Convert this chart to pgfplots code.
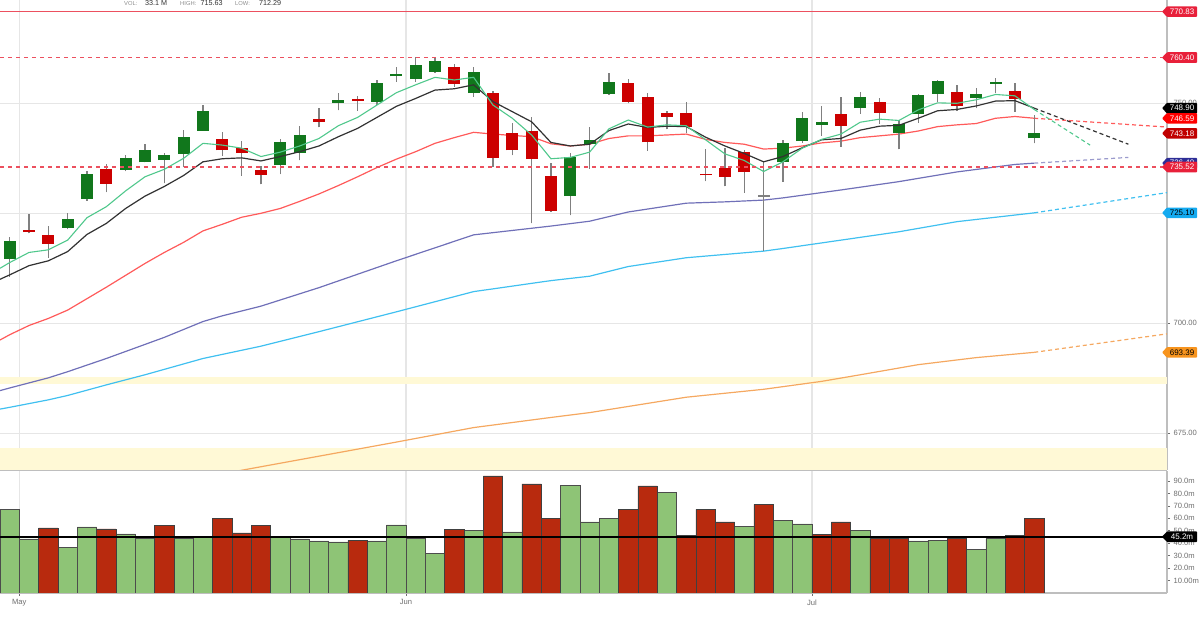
\documentclass[border=0pt]{standalone}
\usepackage{pgfplots}
\pgfplotsset{compat=1.18}
\usepackage{pgfplotstable}
\usepackage{fontspec}
\setmainfont{Liberation Sans}

\definecolor{cgreen}{RGB}{17,119,28}
\definecolor{cred}{RGB}{204,0,0}
\definecolor{wick}{RGB}{128,128,128}
\definecolor{vgreen}{RGB}{142,196,118}
\definecolor{vred}{RGB}{184,42,14}
\definecolor{magreen}{RGB}{80,200,140}
\definecolor{mablack}{RGB}{50,50,50}
\definecolor{mared}{RGB}{255,90,90}
\definecolor{mapurple}{RGB}{112,112,184}
\definecolor{macyan}{RGB}{64,192,240}
\definecolor{maorange}{RGB}{245,168,96}
\definecolor{hlevel}{RGB}{236,80,95}
\definecolor{band}{RGB}{255,249,214}
\definecolor{gridc}{RGB}{230,230,230}
\definecolor{axisc}{RGB}{190,190,190}
\definecolor{tickc}{RGB}{110,110,110}
\definecolor{tagcrimson}{RGB}{232,32,58}
\definecolor{tagred}{RGB}{255,0,0}
\definecolor{tagdark}{RGB}{192,0,0}
\definecolor{tagpurple}{RGB}{45,45,150}
\definecolor{tagcyan}{RGB}{20,170,240}
\definecolor{tagorange}{RGB}{247,148,30}

\newcommand\tickf{\fontsize{7.6}{8}\selectfont}
\newcommand\tagf{\fontsize{8}{8}\selectfont}
\newcommand\pricetag[4]{%
  \fill[#2,rounded corners=0.8pt] ([xshift=-5pt]#1) -- ([yshift=5.3pt]#1) -- ([xshift=30pt,yshift=5.3pt]#1) -- ([xshift=30pt,yshift=-5.3pt]#1) -- ([yshift=-5.3pt]#1) -- cycle;
  \node[text=#3,font=\tagf,inner sep=0pt] at ([xshift=15pt]#1) {#4};}
\pgfplotsset{candle/.style={only marks, mark=*, mark size=0pt, mark options={draw=none,fill=none}, forget plot}}

\pgfplotstableread{
x o h l c
0 714.6 719.7 710.6 718.6
3 721.7 725.0 721.4 723.7
4 728.2 734.6 727.9 733.9
6 734.9 738.2 734.6 737.6
7 736.6 740.8 736.6 739.4
8 737.1 738.6 731.8 738.2
9 738.5 743.9 735.5 742.3
10 743.8 749.6 743.8 748.3
14 735.9 741.9 733.9 741.3
15 738.6 744.8 737.0 742.7
17 750.1 752.4 748.4 750.7
19 750.4 755.3 749.6 754.7
20 756.1 758.2 754.9 756.7
21 755.5 760.6 754.9 758.7
22 757.2 760.6 756.9 759.7
24 752.3 758.3 751.5 757.1
29 728.9 738.6 724.5 737.7
30 740.7 744.5 735.1 741.7
31 752.0 756.8 751.9 754.9
40 736.6 741.7 732.2 741.0
41 741.4 748.1 741.0 746.7
42 745.1 749.4 742.6 745.8
44 748.9 752.5 747.6 751.4
46 743.3 746.2 739.5 745.4
47 747.5 752.0 745.6 751.8
48 752.2 755.4 750.3 755.1
50 751.1 753.4 748.9 752.0
51 754.4 755.7 752.3 754.8
53 742.0 747.3 740.9 743.2
}\greenC

\pgfplotstableread{
x o h l c
1 721.2 724.8 720.45 720.7
2 720.1 722.1 714.9 718.1
5 735.0 736.1 729.8 731.7
11 741.9 743.5 738.1 739.3
12 739.8 741.4 733.5 738.7
13 734.8 735.8 731.6 733.8
16 746.4 749.0 744.5 745.8
18 751.0 751.6 748.3 750.5
23 758.2 758.9 753.8 754.4
25 752.4 752.9 735.5 737.6
26 743.3 745.5 738.2 739.3
27 743.6 746.8 722.7 737.3
28 733.5 736.4 725.4 725.5
32 754.6 755.5 750.0 750.4
33 751.4 752.3 739.2 741.1
34 747.8 748.3 744.1 746.9
35 747.8 750.2 743.3 744.5
36 733.9 739.6 732.3 733.6
37 735.3 739.9 731.1 733.3
38 738.9 739.4 729.7 734.3
43 747.5 751.4 740.1 744.9
45 750.3 751.1 745.4 747.9
49 752.5 754.1 748.3 749.4
52 752.8 754.5 748.1 750.9
}\redC

\pgfplotstableread{
x o h l c
39 728.8 736.7 716.5 729.1
}\dojiC

\pgfplotstableread{
x v
0 66.8
1 43.4
3 36.9
4 53.1
6 47.4
7 43.7
9 44.2
10 45.6
14 45.4
15 43.4
16 41.8
17 41.0
19 41.8
20 54.7
21 43.7
22 31.5
24 50.1
26 49.1
29 86.5
30 57.1
31 60.1
34 80.6
38 53.6
40 58.0
41 55.5
44 50.4
47 41.8
48 42.3
50 35.3
51 43.7
}\greenV

\pgfplotstableread{
x v
2 52.3
5 51.5
8 54.2
11 60.1
12 48.2
13 54.2
18 42.3
23 51.2
25 94.1
27 87.6
28 60.1
32 67.1
33 86.0
35 46.4
36 67.1
37 57.1
39 71.2
42 47.2
43 57.1
45 43.7
46 43.7
49 43.7
52 46.4
53 60.1
}\redV

\pgfplotstableread{
x y
-0.5 770.83
59.87 770.83
}\levelA
\pgfplotstableread{
x y
-0.5 760.40
59.87 760.40
}\levelB
\pgfplotstableread{
x y
-0.5 735.52
59.87 735.52
}\levelC

\begin{document}
\begin{tikzpicture}[x=1pt,y=1pt]
\useasboundingbox (0pt,0pt) rectangle (1200pt,617pt);

% ---------------- price panel ----------------
\begin{axis}[
  at={(0pt,147pt)}, anchor=south west,
  width=1167pt, height=470pt, scale only axis,
  xmin=-0.5, xmax=59.87, ymin=666.66, ymax=773.48,
  axis x line*=bottom, axis y line*=right,
  axis line style={axisc, line width=1.5pt},
  xtick={0.5,20.5,41.5}, xticklabels={}, xtick style={draw=none},
  ytick={675,700,725,750}, yticklabels={675.00,700.00,725.00,750.00},
  yticklabel style={font=\tickf, text=tickc},
  ytick style={tickc, line width=0.6pt},
  tick align=outside, major tick length=3pt,
  xmajorgrids, ymajorgrids, grid style={gridc, line width=1.2pt},
  clip mode=individual,
]
% yellow bands
\addplot[fill=band, draw=none, forget plot] coordinates {(-0.5,686.3) (59.87,686.3) (59.87,687.7) (-0.5,687.7)} -- cycle;
\addplot[fill=band, draw=none, forget plot] coordinates {(-0.5,666) (59.87,666) (59.87,671.7) (-0.5,671.7)} -- cycle;

% slow moving averages
\addplot[color=maorange, line width=1.2pt, forget plot] coordinates {(10,665.0) (12,666.6) (15,669.0) (20,673.0) (24,676.3) (28,678.6) (30,679.7) (32,681.1) (35,683.2) (39,685.0) (42,686.8) (44,688.3) (47,690.6) (50,692.2) (53,693.4)};
\addplot[color=maorange, line width=1.2pt, dash pattern=on 4pt off 3pt, forget plot] coordinates {(53,693.4) (59.87,697.6)};
\addplot[color=macyan, line width=1.2pt, forget plot] coordinates {(-0.5,680.5) (0,680.9) (2,682.6) (3,683.6) (5,686.0) (7,688.3) (10,692.0) (13,694.8) (16,698.1) (20,702.6) (24,707.2) (28,709.7) (30,710.7) (32,712.9) (35,714.9) (39,716.4) (40,717.0) (43,718.9) (46,720.8) (49,723.1) (53,725.1)};
\addplot[color=macyan, line width=1.2pt, dash pattern=on 4pt off 3pt, forget plot] coordinates {(53,725.1) (59.87,729.7)};
\addplot[color=mapurple, line width=1.2pt, forget plot] coordinates {(-0.5,684.7) (0,685.3) (2,687.6) (3,689.0) (5,692.0) (8,696.8) (10,700.4) (11,701.7) (13,703.9) (16,708.1) (20,714.2) (24,720.1) (28,722.1) (30,723.2) (32,725.3) (35,727.3) (37,727.6) (39,728.0) (40,728.5) (43,730.3) (46,732.2) (49,734.4) (52,736.1) (53,736.4)};
\addplot[color=mapurple!70, line width=1.2pt, dash pattern=on 4pt off 3pt, forget plot] coordinates {(53,736.4) (57.87,737.7)};

\addplot[color=mared, line width=1.2pt, forget plot] coordinates {(-0.5,696.2) (0,697.4) (1,699.5) (2,701.1) (3,703.0) (4,705.6) (5,708.2) (6,710.9) (7,713.6) (8,716.1) (9,718.4) (10,721.0) (11,722.5) (12,724.1) (13,725.0) (14,726.1) (15,727.7) (16,729.4) (17,731.3) (18,733.3) (19,735.4) (20,737.3) (21,739.0) (22,740.9) (23,742.2) (24,743.4) (25,743.0) (26,742.7) (27,742.4) (28,740.8) (29,740.3) (30,740.7) (31,742.0) (32,742.6) (33,742.6) (34,742.8) (35,743.0) (36,741.8) (37,741.1) (38,740.7) (39,739.6) (40,739.8) (41,740.3) (42,741.0) (43,741.4) (44,742.2) (45,742.6) (46,743.0) (47,743.7) (48,744.7) (49,745.1) (50,745.4) (51,746.6) (52,747.0) (53,746.6)};
\addplot[color=mared, line width=1.2pt, dash pattern=on 4pt off 3pt, forget plot] coordinates {(53,746.6) (59.87,744.6)};

% candles: wicks
\addplot[candle, error bars/.cd, y dir=plus, y explicit, error mark=none,
  error bar style={line width=1.4pt, draw=wick}]
  table[x=x, y=l, y error plus expr=\thisrow{h}-\thisrow{l}] {\greenC};
\addplot[candle, error bars/.cd, y dir=plus, y explicit, error mark=none,
  error bar style={line width=1.4pt, draw=wick}]
  table[x=x, y=l, y error plus expr=\thisrow{h}-\thisrow{l}] {\redC};
\addplot[candle, error bars/.cd, y dir=plus, y explicit, error mark=none,
  error bar style={line width=1.4pt, draw=wick}]
  table[x=x, y=l, y error plus expr=\thisrow{h}-\thisrow{l}] {\dojiC};
% candles: bodies
\addplot[candle, error bars/.cd, y dir=plus, y explicit, error mark=none,
  error bar style={line width=12pt, draw=cgreen}]
  table[x=x, y=o, y error plus expr=\thisrow{c}-\thisrow{o}] {\greenC};
\addplot[candle, error bars/.cd, y dir=plus, y explicit, error mark=none,
  error bar style={line width=12pt, draw=cred}]
  table[x=x, y=c, y error plus expr=\thisrow{o}-\thisrow{c}] {\redC};
\addplot[candle, error bars/.cd, y dir=plus, y explicit, error mark=none,
  error bar style={line width=12pt, draw=wick}]
  table[x=x, y=o, y error plus expr=\thisrow{c}-\thisrow{o}] {\dojiC};

% fast moving averages
\addplot[color=mablack, line width=1.2pt, forget plot] coordinates {(-0.5,710.0) (0,711.0) (1,713.1) (2,714.2) (3,716.3) (4,720.2) (5,722.7) (6,726.1) (7,728.9) (8,731.1) (9,733.6) (10,736.7) (11,737.4) (12,737.6) (13,736.9) (14,737.9) (15,739.0) (16,740.3) (17,742.4) (18,744.3) (19,746.8) (20,749.3) (21,751.1) (22,753.0) (23,753.3) (24,754.2) (25,750.4) (26,748.1) (27,745.8) (28,741.1) (29,740.3) (30,740.7) (31,743.8) (32,745.3) (33,744.5) (34,744.8) (35,744.7) (36,742.3) (37,740.3) (38,738.6) (39,736.7) (40,737.9) (41,739.9) (42,741.7) (43,742.0) (44,743.9) (45,744.8) (46,745.0) (47,746.6) (48,748.3) (49,748.6) (50,749.4) (51,750.5) (52,750.6) (53,748.9)};
\addplot[color=mablack, line width=1.2pt, dash pattern=on 4pt off 3pt, forget plot] coordinates {(53,748.9) (57.87,740.7)};
\addplot[color=magreen, line width=1.1pt, forget plot] coordinates {(-0.5,712.5) (0,713.8) (1,716.1) (2,716.7) (3,718.9) (4,724.0) (5,726.5) (6,730.1) (7,733.3) (8,735.0) (9,737.5) (10,740.9) (11,740.5) (12,739.8) (13,737.9) (14,738.9) (15,740.3) (16,742.0) (17,744.9) (18,746.8) (19,749.6) (20,752.4) (21,754.2) (22,755.9) (23,755.3) (24,755.9) (25,749.6) (26,746.6) (27,742.8) (28,737.4) (29,737.7) (30,738.9) (31,744.2) (32,746.2) (33,744.6) (34,745.1) (35,744.9) (36,741.7) (37,738.5) (38,737.0) (39,734.5) (40,736.7) (41,739.8) (42,741.8) (43,743.0) (44,745.7) (45,746.4) (46,746.1) (47,748.5) (48,750.1) (49,750.0) (50,750.8) (51,752.0) (52,751.7) (53,748.6)};
\addplot[color=magreen, line width=1.1pt, dash pattern=on 4pt off 3pt, forget plot] coordinates {(53,748.6) (55.89,740.5)};

\coordinate (Ta) at (axis cs:59.87,770.83);
\coordinate (Tb) at (axis cs:59.87,760.40);
\coordinate (Tc) at (axis cs:59.87,748.90);
\coordinate (Td) at (axis cs:59.87,746.59);
\coordinate (Te) at (axis cs:59.87,743.18);
\coordinate (Tf) at (axis cs:59.87,736.40);
\coordinate (Tg) at (axis cs:59.87,735.52);
\coordinate (Th) at (axis cs:59.87,725.10);
\coordinate (Ti) at (axis cs:59.87,693.39);
\end{axis}

% ---------------- volume panel ----------------
\begin{axis}[
  at={(0pt,24pt)}, anchor=south west,
  width=1167pt, height=122pt, scale only axis,
  xmin=-0.5, xmax=59.87, ymin=0, ymax=98,
  axis x line*=bottom, axis y line*=right,
  axis line style={axisc, line width=1.5pt},
  xtick={0.5,20.5,41.5}, xticklabels={May,Jun,Jul},
  xticklabel style={font=\tickf, text=tickc},
  ytick={10,20,30,40,50,60,70,80,90},
  yticklabels={10.00m,20.0m,30.0m,40.0m,50.0m,60.0m,70.0m,80.0m,90.0m},
  yticklabel style={font=\tickf, text=tickc},
  tick style={tickc, line width=0.6pt},
  tick align=outside, major tick length=3pt,
  xmajorgrids, grid style={gridc, line width=1.2pt},
  clip mode=individual,
]
\addplot[ybar, bar width=1, bar shift=0pt, fill=vgreen, draw=black!70, line width=0.7pt, forget plot] table[x=x,y=v] {\greenV};
\addplot[ybar, bar width=1, bar shift=0pt, fill=vred, draw=black!75, line width=0.7pt, forget plot] table[x=x,y=v] {\redV};
\addplot[color=black, line width=2pt, forget plot] coordinates {(-0.5,45.2) (59.87,45.2)};
\coordinate (Tv) at (axis cs:59.87,45.2);
\end{axis}

% ---------------- horizontal price levels (overlay on the price panel) ----------------
\begin{axis}[
  at={(0pt,147pt)}, anchor=south west,
  width=1167pt, height=470pt, scale only axis,
  xmin=-0.5, xmax=59.87, ymin=666.66, ymax=773.48,
  hide axis,
]
\addplot[draw=hlevel, line width=1.4pt, mark=none, forget plot] table[x=x,y=y] {\levelA};
\addplot[draw=hlevel, line width=1.4pt, mark=none, dash pattern=on 4pt off 4pt, forget plot] table[x=x,y=y] {\levelB};
\addplot[draw=hlevel, line width=1.4pt, mark=none, dash pattern=on 4pt off 4pt, forget plot] table[x=x,y=y] {\levelC};
\end{axis}

% ---------------- value tags ----------------
\pricetag{Ta}{tagcrimson}{white}{770.83}
\pricetag{Tb}{tagcrimson}{white}{760.40}
\pricetag{Tc}{black}{white}{748.90}
\pricetag{Td}{tagred}{white}{746.59}
\pricetag{Te}{tagdark}{white}{743.18}
\pricetag{Tf}{tagpurple}{white}{736.40}
\pricetag{Tg}{tagcrimson}{white}{735.52}
\pricetag{Th}{tagcyan}{black}{725.10}
\pricetag{Ti}{tagorange}{black}{693.39}
\pricetag{Tv}{black}{white}{45.2m}

% ---------------- header ----------------
\node[anchor=base west, inner sep=0pt, font=\fontsize{5.8}{6}\selectfont, text=black!45] at (124pt,611.3pt) {VOL:};
\node[anchor=base west, inner sep=0pt, font=\fontsize{7.2}{8}\selectfont, text=black!80] at (145pt,611.3pt) {33.1 M};
\node[anchor=base west, inner sep=0pt, font=\fontsize{5.8}{6}\selectfont, text=black!45] at (180pt,611.3pt) {HIGH:};
\node[anchor=base west, inner sep=0pt, font=\fontsize{7.2}{8}\selectfont, text=black!80] at (200.5pt,611.3pt) {715.63};
\node[anchor=base west, inner sep=0pt, font=\fontsize{5.8}{6}\selectfont, text=black!45] at (235pt,611.3pt) {LOW:};
\node[anchor=base west, inner sep=0pt, font=\fontsize{7.2}{8}\selectfont, text=black!80] at (259pt,611.3pt) {712.29};
\end{tikzpicture}
\end{document}
